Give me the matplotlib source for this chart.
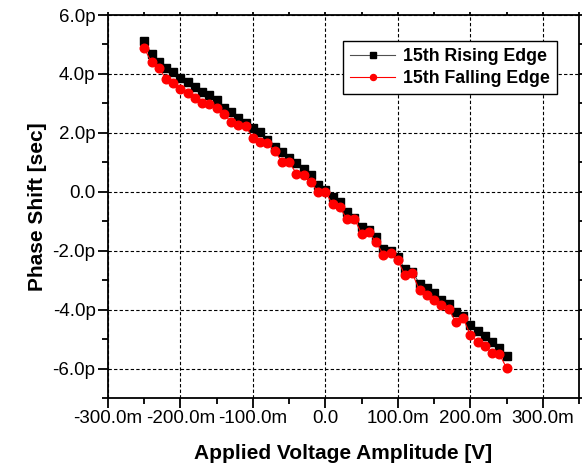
import matplotlib
matplotlib.use("Agg")
import matplotlib.pyplot as plt
from matplotlib.ticker import FuncFormatter, MultipleLocator

plt.rcParams["font.family"] = ["Liberation Sans", "DejaVu Sans"]

# applied voltage in mV, phase shift in ps
voltage_mv = list(range(-250, 251, 10))
rising_ps = [5.13, 4.67, 4.39, 4.21, 4.05, 3.87, 3.72, 3.57, 3.40, 3.27,
             3.11, 2.85, 2.71, 2.52, 2.34, 2.15, 2.03, 1.75, 1.52, 1.34,
             1.15, 0.98, 0.77, 0.56, 0.22, 0.05, -0.18, -0.35, -0.70, -0.88,
             -1.21, -1.31, -1.54, -1.93, -2.02, -2.23, -2.63, -2.72, -3.12, -3.27,
             -3.44, -3.69, -3.80, -4.09, -4.20, -4.51, -4.71, -4.88, -5.11, -5.30,
             -5.56]
falling_ps = [4.87, 4.40, 4.21, 3.82, 3.68, 3.49, 3.34, 3.17, 3.03, 2.97,
              2.85, 2.64, 2.36, 2.26, 2.22, 1.83, 1.69, 1.66, 1.39, 1.02,
              1.00, 0.62, 0.56, 0.33, -0.02, -0.02, -0.42, -0.53, -0.94, -0.92,
              -1.42, -1.38, -1.71, -2.13, -2.07, -2.32, -2.84, -2.77, -3.35, -3.49,
              -3.67, -3.84, -3.97, -4.43, -4.28, -4.86, -5.09, -5.24, -5.47, -5.50,
              -5.98]

x = [v * 1e-3 for v in voltage_mv]
y_r = [p * 1e-12 for p in rising_ps]
y_f = [p * 1e-12 for p in falling_ps]

fig = plt.figure(figsize=(5.84, 4.69), dpi=100)
ax = fig.add_axes([0.185, 0.1514, 0.8064, 0.8166])

ax.plot(x, y_r, color="#505050", lw=0.8, marker="s", ms=5.6,
        mfc="black", mec="black", label="15th Rising Edge", zorder=3)
ax.plot(x, y_f, color="red", lw=0.8, marker="o", ms=6.2,
        mfc="red", mec="red", label="15th Falling Edge", zorder=4)

ax.set_xlim(-0.3, 0.35)
ax.set_ylim(-7e-12, 6e-12)

ax.xaxis.set_major_locator(MultipleLocator(0.1))
ax.xaxis.set_minor_locator(MultipleLocator(0.05))
ax.yaxis.set_major_locator(MultipleLocator(2e-12))
ax.yaxis.set_minor_locator(MultipleLocator(1e-12))


def fmt_x(v, pos):
    if abs(v) < 1e-9:
        return "0.0"
    return "%.1fm" % (v * 1e3)


def fmt_y(v, pos):
    if abs(v) < 1e-18:
        return "0.0"
    return "%.1fp" % (v * 1e12)


ax.xaxis.set_major_formatter(FuncFormatter(fmt_x))
ax.yaxis.set_major_formatter(FuncFormatter(fmt_y))

ax.grid(True, which="major", color="black", ls=(0, (3, 2)), lw=0.8)

for s in ax.spines.values():
    s.set_linewidth(1.3)

ax.tick_params(which="major", direction="out", length=7, width=1.3,
               labelsize=13.5, pad=2, top=True, right=True)
ax.tick_params(which="minor", direction="out", length=4, width=1.3,
               top=True, right=True)
ax.tick_params(which="both", axis="x", top=True, labeltop=False)
ax.tick_params(which="both", axis="y", right=True, labelright=False)
# short ticks on the top and right spines
for t in ax.xaxis.get_ticklines(minor=False)[1::2] + ax.yaxis.get_ticklines(minor=False)[1::2]:
    t.set_markersize(2)
for t in ax.xaxis.get_ticklines(minor=True)[1::2] + ax.yaxis.get_ticklines(minor=True)[1::2]:
    t.set_markersize(2)

ax.set_xlabel("Applied Voltage Amplitude [V]", fontsize=15, fontweight="bold", labelpad=12)
ax.set_ylabel("Phase Shift [sec]", fontsize=15, fontweight="bold", labelpad=4)

leg = ax.legend(loc="upper right", bbox_to_anchor=(0.953, 0.933),
                prop={"weight": "bold", "size": 12.8}, fancybox=False, framealpha=1,
                edgecolor="black", handlelength=2.5, borderpad=0.4,
                labelspacing=0.3, handletextpad=0.45, markerscale=0.7,
                borderaxespad=0)
leg.get_frame().set_linewidth(1.0)

fig.savefig("out.png", dpi=100)
